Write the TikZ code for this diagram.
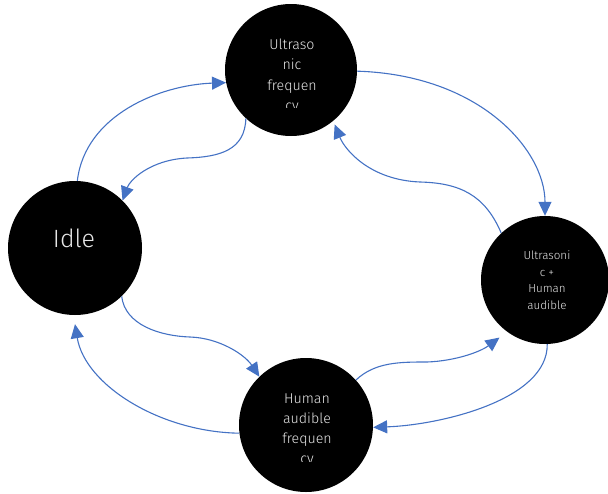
\documentclass[tikz,border=0pt]{standalone}
\usepackage{fontspec}
\setmainfont{Fira Sans Light}
\usetikzlibrary{arrows.meta}
\definecolor{arrowblue}{HTML}{4472C4}
\definecolor{txtgray}{HTML}{E6E6E6}
\begin{document}
\begin{tikzpicture}[x=1pt,y=-1pt,
  state/.style={circle,fill=black,minimum size=132pt,inner sep=0pt},
  lbl/.style={text=txtgray,align=center,inner sep=0pt},
  flow/.style={draw=arrowblue,line width=1.1pt,-{Triangle[length=14pt,width=13pt]}}]
\useasboundingbox (0,0) rectangle (608,493);
% states
\node[state] (T) at (291,70) {};
\node[state,minimum size=134pt] (I) at (75,248) {};
\node[state,minimum size=128pt] (R) at (545,280) {};
\node[state,minimum size=134pt] (B) at (306,425) {};
% labels
\begin{scope}
  \clip (220,20) rectangle (365,107);
  \node[lbl,font={\fontsize{14.2}{20.5}\selectfont}] (tT) at (292,76) {Ultraso\\nic\\frequen\\cy};
\end{scope}
\node[lbl,font={\fontsize{25}{30}\selectfont}] (tI) at (74,238) {Idle};
\node[lbl,font={\fontsize{11.6}{16.5}\selectfont}] (tR) at (547,280) {Ultrasoni\\c +\\Human\\audible};
\begin{scope}
  \clip (230,380) rectangle (380,461);
  \node[lbl,font={\fontsize{14.2}{20}\selectfont}] (tB) at (307,430) {Human\\audible\\frequen\\cy};
\end{scope}
% transitions
\draw[flow] (I.88) .. controls (85,115) and (160,85) .. (T.191);
\draw[flow] (T.227) .. controls (245,150) and (220,157) .. (187,158)
  .. controls (150,160) and (130,180) .. (I.45);
\draw[flow] (T.359) .. controls (480,75) and (545,150) .. (R.90);
\draw[flow] (R.133) .. controls (485,195) and (460,183) .. (420,182)
  .. controls (370,180) and (345,150) .. ([xshift=2pt,yshift=-3pt]T.309);
\draw[flow] (I.314) .. controls (125,325) and (160,336) .. (190,337)
  .. controls (220,338) and (245,355) .. (B.134);
\draw[flow] (B.187) .. controls (160,432) and (85,385) .. ([yshift=-9pt]I.270);
\draw[flow] (B.42) .. controls (375,362) and (400,362) .. (427,362)
  .. controls (455,361) and (480,352) .. ([xshift=-6pt,yshift=-7pt]R.232);
\draw[flow] (R.272) .. controls (548,400) and (440,425) .. (B.358);
\end{tikzpicture}
\end{document}
